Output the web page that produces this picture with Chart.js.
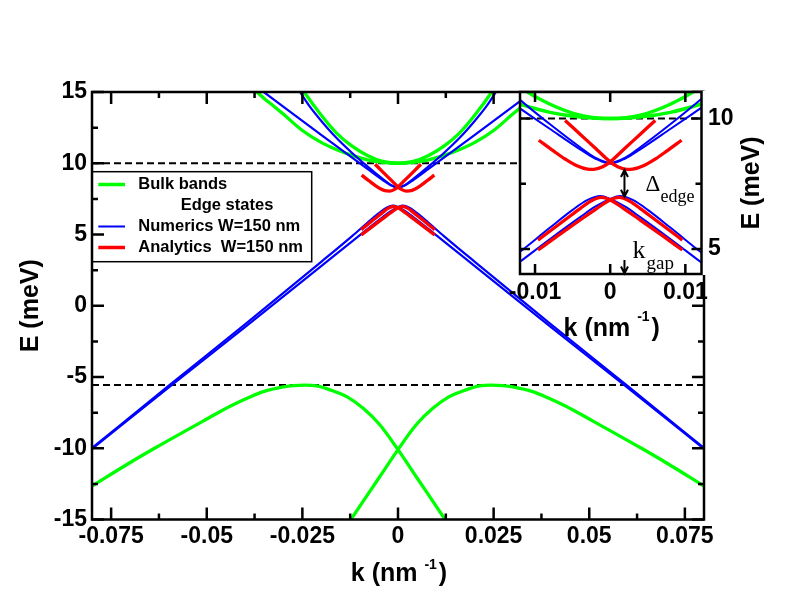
<!DOCTYPE html>
<html>
<head>
<meta charset="utf-8">
<script src="https://cdn.jsdelivr.net/npm/chart.js@4.4.0/dist/chart.umd.min.js"></script>
<style>
  html, body { margin: 0; padding: 0; background: #fff; }
  #wrap { position: relative; width: 792px; height: 612px; overflow: hidden; }
  #main { position: absolute; left: 0; top: 0; }
  #inset { position: absolute; left: 470px; top: 60px; }
</style>
</head>
<body>
<div id="wrap">
  <canvas id="main" width="792" height="612"></canvas>
  <canvas id="inset" width="322" height="300"></canvas>
</div>
<script>
"use strict";

// ---- axes -------------------------------------------------------------
const mainKRange = [-0.08, 0.08];
const mainERange = [-15, 15];
const mainXTicks = [-0.075, -0.05, -0.025, 0, 0.025, 0.05, 0.075];
const mainXLabels = ["-0.075", "-0.05", "-0.025", "0", "0.025", "0.05", "0.075"];
const mainXMinor = [-0.0625, -0.0375, -0.0125, 0.0125, 0.0375, 0.0625];
const mainYTicks = [-15, -10, -5, 0, 5, 10, 15];
const mainYLabels = ["-15", "-10", "-5", "0", "5", "10", "15"];
const mainYMinor = [-12.5, -7.5, -2.5, 2.5, 7.5, 12.5];

const insetKRange = [-0.012, 0.01215];
const insetERange = [4.04, 11.02];
const insetXTicks = [-0.01, 0, 0.01];
const insetXLabels = ["-0.01", "0", "0.01"];
const insetXMinor = [];
const insetYTicks = [5, 10];
const insetYLabels = ["5", "10"];
const insetYMinor = [7.5];

// ---- bulk bands (green) ----------------------------------------------
const bulkUpSteepK = [-0.027, -0.0245, -0.02, -0.016, -0.012, -0.008, -0.004, 0,
                      0.004, 0.008, 0.012, 0.016, 0.02, 0.0245, 0.027];
const bulkUpSteepE = [16.1, 15.0, 13.35, 12.1, 11.2, 10.55, 10.13, 10.0,
                      10.13, 10.55, 11.2, 12.1, 13.35, 15.0, 16.1];
const bulkUpWideK = [-0.041, -0.0375, -0.035, -0.032, -0.03, -0.025, -0.02, -0.016,
                     -0.012, -0.008, -0.004, 0, 0.004, 0.008, 0.012, 0.016, 0.02,
                     0.025, 0.03, 0.032, 0.035, 0.0375, 0.041];
const bulkUpWideE = [15.9, 15.15, 14.55, 13.9, 13.45, 12.3, 11.45, 10.95,
                     10.55, 10.24, 10.06, 10.0, 10.06, 10.24, 10.55, 10.95, 11.45,
                     12.3, 13.45, 13.9, 14.55, 15.15, 15.9];
const bulkLowLeftK = [-0.08, -0.07, -0.0633, -0.05, -0.0439, -0.0387, -0.0352, -0.03,
                      -0.0274, -0.0243, -0.0213, -0.0178, -0.0134, -0.0091, -0.0047, 0,
                      0.0049, 0.0123, 0.0145];
const bulkLowLeftE = [-12.65, -11.0, -9.95, -7.95, -7.05, -6.4, -6.03, -5.7,
                      -5.6, -5.57, -5.63, -5.9, -6.38, -7.2, -8.37, -10.1,
                      -12.05, -15.0, -15.9];
const bulkLowRightK = [-0.0145, -0.0123, -0.0049, 0, 0.0047, 0.0091, 0.0134, 0.0178,
                       0.0213, 0.0243, 0.0274, 0.03, 0.0352, 0.0387, 0.0439, 0.05,
                       0.0633, 0.07, 0.08];
const bulkLowRightE = [-15.9, -15.0, -12.05, -10.1, -8.37, -7.2, -6.38, -5.9,
                       -5.63, -5.57, -5.6, -5.7, -6.03, -6.4, -7.05, -7.95,
                       -9.95, -11.0, -12.65];

// ---- edge states, numerics (blue) ------------------------------------
const numUpAK = [-0.036, -0.035, -0.03, -0.025, -0.02, -0.016, -0.012, -0.008, -0.004,
                 -0.002, 0, 0.002, 0.004, 0.008, 0.012, 0.016, 0.02, 0.025, 0.03,
                 0.035, 0.036];
const numUpAE = [15.18, 14.98, 13.98, 12.98, 11.98, 11.18, 10.39, 9.6, 8.82,
                 8.47, 8.27, 8.47, 8.82, 9.6, 10.39, 11.18, 11.98, 12.98, 13.98,
                 14.98, 15.18];
const numUpBK = [-0.027, -0.0256, -0.023, -0.02, -0.016, -0.012, -0.008, -0.004, -0.002,
                 0, 0.002, 0.004, 0.008, 0.012, 0.016, 0.02, 0.023, 0.0256, 0.027];
const numUpBE = [15.6, 15.0, 13.95, 12.95, 11.75, 10.72, 9.78, 8.9, 8.5,
                 8.3, 8.5, 8.9, 9.78, 10.72, 11.75, 12.95, 13.95, 15.0, 15.6];
const numLowAK = [-0.08, -0.06, -0.04, -0.02, -0.012, -0.008, -0.004, -0.002, 0, 0.0013,
                  0.003, 0.005, 0.008, 0.012, 0.02, 0.04, 0.06, 0.08];
const numLowAE = [-10.05, -5.75, -1.5, 2.8, 4.51, 5.38, 6.22, 6.62, 6.92, 7.03,
                  6.88, 6.5, 5.82, 4.89, 3.1, -1.3, -5.62, -9.98];
const numLowBK = [-0.08, -0.06, -0.04, -0.02, -0.012, -0.008, -0.005, -0.003, -0.0013, 0,
                  0.002, 0.004, 0.008, 0.012, 0.02, 0.04, 0.06, 0.08];
const numLowBE = [-9.98, -5.62, -1.3, 3.1, 4.89, 5.82, 6.5, 6.88, 7.03, 6.92,
                  6.62, 6.22, 5.38, 4.51, 2.8, -1.5, -5.75, -10.05];

// ---- edge states, analytics (red) ------------------------------------
const anaUpAK = [-0.006, -0.004, -0.002, 0, 0.001, 0.0022, 0.003, 0.0045, 0.006, 0.0075, 0.0095];
const anaUpAE = [9.93, 9.4, 8.87, 8.34, 8.15, 8.05, 8.06, 8.2, 8.45, 8.75, 9.17];
const anaUpBK = [-0.0095, -0.0075, -0.006, -0.0045, -0.003, -0.0022, -0.001, 0, 0.002, 0.004, 0.006];
const anaUpBE = [9.17, 8.75, 8.45, 8.2, 8.06, 8.05, 8.15, 8.34, 8.87, 9.4, 9.93];
const anaLowAK = [-0.0096, -0.007, -0.004, -0.002, 0, 0.0012, 0.0025, 0.004, 0.006, 0.008, 0.0096];
const anaLowAE = [4.96, 5.5, 6.11, 6.51, 6.88, 6.98, 6.85, 6.55, 6.12, 5.69, 5.34];
const anaLowBK = [-0.0096, -0.008, -0.006, -0.004, -0.0025, -0.0012, 0, 0.002, 0.004, 0.007, 0.0096];
const anaLowBE = [5.34, 5.69, 6.12, 6.55, 6.85, 6.98, 6.88, 6.51, 6.11, 5.5, 4.96];

// ---- reference levels (dashed) ---------------------------------------
const dashK = [-0.08, 0.08];
const dashUpE = [10, 10];
const dashLowE = [-5.56, -5.56];

// ---- inset annotations -----------------------------------------------
const gapArrowK = 0.0019;
const deltaArrowE = [8.03, 7.0];
const kgapArrowE = [4.58, 4.06];

const legendRows = [
  { text: "Bulk bands", color: "#00ff00", width: 3.5 },
  { text: "Edge states", color: null },
  { text: "Numerics W=150 nm", color: "#0000ff", width: 2 },
  { text: "Analytics  W=150 nm", color: "#ff0000", width: 3.5 }
];

const GREEN = "#00ff00", BLUE = "#0000ff", RED = "#ff0000";
const SANS = '"Liberation Sans", Arial, Helvetica, sans-serif';
const SERIF = '"Liberation Serif", "Times New Roman", serif';
const TICK_FONT = { family: SANS, size: 23, weight: "bold" };
const TITLE_FONT = "bold 25px " + SANS;
const SUP_FONT = "bold 14px " + SANS;
const LEGEND_FONT = "bold 16.5px " + SANS;

function series(ks, es) {
  return ks.map((k, i) => ({ x: k, y: es[i] }));
}

function lineSet(ks, es, color, width, extra) {
  return Object.assign({
    data: series(ks, es),
    borderColor: color,
    backgroundColor: color,
    borderWidth: width,
    showLine: true,
    pointRadius: 0,
    fill: false,
    cubicInterpolationMode: "monotone"
  }, extra || {});
}

function buildDatasets(w) {
  const dash = { borderDash: [7, 4], cubicInterpolationMode: "default", tension: 0 };
  return [
    lineSet(anaUpAK, anaUpAE, RED, w.red),
    lineSet(anaUpBK, anaUpBE, RED, w.red),
    lineSet(anaLowAK, anaLowAE, RED, w.red),
    lineSet(anaLowBK, anaLowBE, RED, w.red),
    lineSet(numUpAK, numUpAE, BLUE, w.blue),
    lineSet(numUpBK, numUpBE, BLUE, w.blue),
    lineSet(numLowAK, numLowAE, BLUE, w.blue),
    lineSet(numLowBK, numLowBE, BLUE, w.blue),
    lineSet(bulkUpSteepK, bulkUpSteepE, GREEN, w.green),
    lineSet(bulkUpWideK, bulkUpWideE, GREEN, w.green),
    lineSet(bulkLowLeftK, bulkLowLeftE, GREEN, w.green),
    lineSet(bulkLowRightK, bulkLowRightE, GREEN, w.green),
    lineSet(dashK, dashUpE, "#000", 2, dash),
    lineSet(dashK, dashLowE, "#000", 2, dash)
  ];
}

function scaleOpts(range, ticks, labels, padding, size, horizontal, position) {
  return {
    type: "linear",
    position: position,
    min: range[0],
    max: range[1],
    grid: { display: false, drawTicks: false },
    border: { display: false },
    afterBuildTicks: (s) => { s.ticks = ticks.map((v) => ({ value: v })); },
    afterFit: (s) => {
      if (horizontal) s.height = size; else s.width = size;
      s.paddingLeft = 0; s.paddingRight = 0; s.paddingTop = 0; s.paddingBottom = 0;
    },
    ticks: {
      autoSkip: false,
      maxRotation: 0,
      minRotation: 0,
      padding: padding,
      color: "#000",
      font: TICK_FONT,
      callback: (v, i) => labels[i]
    }
  };
}

// frame with inward ticks on all four sides
function drawFrame(chart, xMajor, xMinor, yMajor, yMinor, major, minor) {
  const ctx = chart.ctx, a = chart.chartArea;
  const xs = chart.scales.x, ys = chart.scales.y;
  ctx.save();
  ctx.strokeStyle = "#000";
  ctx.lineWidth = 2.5;
  ctx.beginPath();
  const xt = xMajor.map((v) => [v, major]).concat(xMinor.map((v) => [v, minor]));
  for (const [v, len] of xt) {
    const px = xs.getPixelForValue(v);
    ctx.moveTo(px, a.bottom); ctx.lineTo(px, a.bottom - len);
    ctx.moveTo(px, a.top); ctx.lineTo(px, a.top + len);
  }
  const yt = yMajor.map((v) => [v, major]).concat(yMinor.map((v) => [v, minor]));
  for (const [v, len] of yt) {
    const py = ys.getPixelForValue(v);
    ctx.moveTo(a.left, py); ctx.lineTo(a.left + len, py);
    ctx.moveTo(a.right, py); ctx.lineTo(a.right - len, py);
  }
  ctx.stroke();
  ctx.strokeRect(a.left, a.top, a.right - a.left, a.bottom - a.top);
  ctx.restore();
}

function drawVerticalTitle(ctx, text, cx, cy) {
  ctx.save();
  ctx.translate(cx, cy);
  ctx.rotate(-Math.PI / 2);
  ctx.font = TITLE_FONT;
  ctx.fillStyle = "#000";
  ctx.textAlign = "center";
  ctx.textBaseline = "middle";
  ctx.fillText(text, 0, 0);
  ctx.restore();
}

// "k (nm -1)" with the -1 raised
function drawKTitle(ctx, cx, baseline, raise) {
  const head = "k (nm ", sup = "-1", tail = ")";
  ctx.save();
  ctx.fillStyle = "#000";
  ctx.textAlign = "left";
  ctx.textBaseline = "alphabetic";
  ctx.font = TITLE_FONT;
  const wHead = ctx.measureText(head).width;
  const wTail = ctx.measureText(tail).width;
  ctx.font = SUP_FONT;
  const wSup = ctx.measureText(sup).width;
  const x0 = cx - (wHead + wSup + wTail + 2) / 2;
  ctx.font = TITLE_FONT;
  ctx.fillText(head, x0, baseline);
  ctx.fillText(tail, x0 + wHead + wSup + 2, baseline);
  ctx.font = SUP_FONT;
  ctx.fillText(sup, x0 + wHead, baseline - raise);
  ctx.restore();
}

function drawLegend(chart) {
  const ctx = chart.ctx, a = chart.chartArea;
  const left = a.left, top = a.top + 79.7, w = 219.7, h = 90;
  ctx.save();
  ctx.fillStyle = "#fff";
  ctx.fillRect(left, top, w, h);
  ctx.strokeStyle = "#000";
  ctx.lineWidth = 1.5;
  ctx.strokeRect(left, top, w, h);
  ctx.font = LEGEND_FONT;
  ctx.textBaseline = "middle";
  legendRows.forEach((row, i) => {
    const y = top + 12.8 + i * 21;
    ctx.fillStyle = "#000";
    if (row.color) {
      ctx.beginPath();
      ctx.strokeStyle = row.color;
      ctx.lineWidth = row.width;
      ctx.moveTo(left + 6.3, y);
      ctx.lineTo(left + 33, y);
      ctx.stroke();
      ctx.fillText(row.text, left + 46.3, y);
    } else {
      ctx.fillText(row.text, left + 88.7, y);
    }
  });
  ctx.restore();
}

function drawArrow(ctx, x, yFrom, yTo, both) {
  const head = 7, half = 3.5;
  ctx.beginPath();
  ctx.moveTo(x, yFrom); ctx.lineTo(x, yTo);
  const dir = yTo > yFrom ? 1 : -1;
  ctx.moveTo(x - half, yTo - dir * head); ctx.lineTo(x, yTo); ctx.lineTo(x + half, yTo - dir * head);
  if (both) {
    ctx.moveTo(x - half, yFrom + dir * head); ctx.lineTo(x, yFrom); ctx.lineTo(x + half, yFrom + dir * head);
  }
  ctx.stroke();
}

const mainDecor = {
  id: "mainDecor",
  afterDatasetsDraw(chart) { drawLegend(chart); },
  afterDraw(chart) {
    const a = chart.chartArea, ctx = chart.ctx;
    drawFrame(chart, mainXTicks, mainXMinor, mainYTicks, mainYMinor, 12, 6);
    drawVerticalTitle(ctx, "E (meV)", a.left - 61, (a.top + a.bottom) / 2);
    drawKTitle(ctx, (a.left + a.right) / 2 + 1, a.bottom + 61, 12);
  }
};

const insetDecor = {
  id: "insetDecor",
  beforeDraw(chart) {
    const a = chart.chartArea, ctx = chart.ctx;
    ctx.save();
    ctx.fillStyle = "#fff";
    ctx.fillRect(a.left - 1, a.top - 1, a.right - a.left + 6, a.bottom - a.top + 2);
    ctx.restore();
  },
  afterDraw(chart) {
    const a = chart.chartArea, ctx = chart.ctx;
    const xs = chart.scales.x, ys = chart.scales.y;
    drawFrame(chart, insetXTicks, insetXMinor, insetYTicks, insetYMinor, 10, 6);
    drawVerticalTitle(ctx, "E (meV)", a.right + 50.5, (a.top + a.bottom) / 2);
    drawKTitle(ctx, (a.left + a.right) / 2 + 1, a.bottom + 62, 15);

    const ax = xs.getPixelForValue(gapArrowK);
    const d1 = ys.getPixelForValue(deltaArrowE[0]), d2 = ys.getPixelForValue(deltaArrowE[1]);
    const g1 = ys.getPixelForValue(kgapArrowE[0]), g2 = ys.getPixelForValue(kgapArrowE[1]);
    ctx.save();
    ctx.strokeStyle = "#000";
    ctx.lineWidth = 2;
    drawArrow(ctx, ax, d1, d2, true);
    drawArrow(ctx, ax, g1, g2, false);
    ctx.fillStyle = "#000";
    ctx.textAlign = "left";
    ctx.textBaseline = "alphabetic";
    ctx.font = "23px " + SERIF;
    ctx.fillText("\u0394", ax + 21, d2 - 6);
    ctx.font = "18px " + SERIF;
    ctx.fillText("edge", ax + 36, d2 + 5);
    ctx.font = "26px " + SERIF;
    ctx.fillText("k", ax + 8, a.bottom - 16);
    ctx.font = "19px " + SERIF;
    ctx.fillText("gap", ax + 22, a.bottom - 5);
    ctx.restore();
  }
};

Chart.defaults.font.family = SANS;

new Chart(document.getElementById("main"), {
  type: "scatter",
  data: { datasets: buildDatasets({ red: 3.3, blue: 2.2, green: 3.3 }) },
  options: {
    responsive: false,
    animation: false,
    events: [],
    layout: { padding: { top: 92, right: 88, left: 0, bottom: 0 } },
    plugins: { legend: { display: false }, tooltip: { enabled: false } },
    scales: {
      x: scaleOpts(mainKRange, mainXTicks, mainXLabels, 3, 92.5, true, "bottom"),
      y: scaleOpts(mainERange, mainYTicks, mainYLabels, 5, 92, false, "left")
    }
  },
  plugins: [mainDecor]
});

new Chart(document.getElementById("inset"), {
  type: "scatter",
  data: { datasets: buildDatasets({ red: 3.3, blue: 2, green: 3.5 }) },
  options: {
    responsive: false,
    animation: false,
    events: [],
    layout: { padding: { top: 32, left: 50, right: 0, bottom: 0 } },
    plugins: { legend: { display: false }, tooltip: { enabled: false } },
    scales: {
      x: scaleOpts(insetKRange, insetXTicks, insetXLabels, 5, 86, true, "bottom"),
      y: scaleOpts(insetERange, insetYTicks, insetYLabels, 6.5, 90.5, false, "right")
    }
  },
  plugins: [insetDecor]
});
</script>
</body>
</html>
